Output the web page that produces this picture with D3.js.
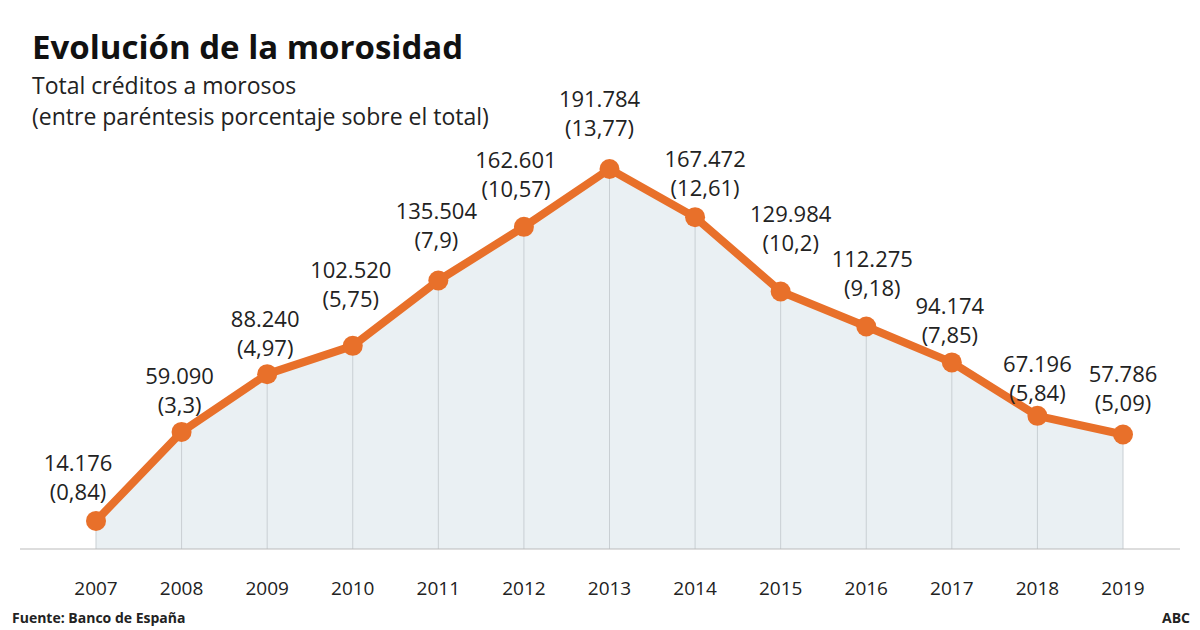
<!DOCTYPE html><html><head><meta charset="utf-8">
<script src="https://cdn.jsdelivr.net/npm/d3@7/dist/d3.min.js"></script>
<style>body{margin:0;background:#fff}text{font-family:"Open Sans",sans-serif}</style></head><body>
<svg id="c" width="1200" height="630"></svg>
<script>
const years=[2007,2008,2009,2010,2011,2012,2013,2014,2015,2016,2017,2018,2019];
const values=[14176,59090,88240,102520,135504,162601,191784,167472,129984,112275,94174,67196,57786];
const valueLabels=["14.176","59.090","88.240","102.520","135.504","162.601","191.784","167.472","129.984","112.275","94.174","67.196","57.786"];
const pctLabels=["(0,84)","(3,3)","(4,97)","(5,75)","(7,9)","(10,57)","(13,77)","(12,61)","(10,2)","(9,18)","(7,85)","(5,84)","(5,09)"];
const labelDy=[-58,-56,-55,-76,-69,-67,-70,-58,-77,-67,-56,-52,-60];
const labelDx=[-18,-2,-2,-2,-2,-8,-10,10,10,6,-2,0,0];
const svg=d3.select("#c");
const x=d3.scalePoint().domain(years).range([96,1123]);
const y=d3.scaleLinear().domain([0,191784]).range([549,169]);
const col="#e8702a";
svg.append("path").datum(values).attr("fill","#eaf0f3")
 .attr("d",d3.area().x((d,i)=>x(years[i])).y0(y(0)).y1(d=>y(d)));
svg.selectAll(".g").data(values).join("line").attr("x1",(d,i)=>x(years[i])).attr("x2",(d,i)=>x(years[i]))
 .attr("y1",d=>y(d)).attr("y2",y(0)).attr("stroke","#c9cfd3").attr("stroke-width",1);
svg.append("line").attr("x1",20).attr("x2",1180).attr("y1",y(0)).attr("y2",y(0)).attr("stroke","#bbb");
svg.append("path").datum(values).attr("fill","none").attr("stroke",col).attr("stroke-width",8).attr("stroke-linejoin","round")
 .attr("d",d3.line().x((d,i)=>x(years[i])).y(d=>y(d)));
svg.selectAll(".p").data(values).join("circle").attr("cx",(d,i)=>x(years[i])).attr("cy",d=>y(d)).attr("r",10).attr("fill",col);
const lg=svg.selectAll(".l").data(values).join("g").attr("transform",(d,i)=>`translate(${x(years[i])+labelDx[i]},${y(d)+labelDy[i]})`);
lg.append("text").attr("text-anchor","middle").attr("dy","0.35em").attr("font-size",22).attr("fill","#222").text((d,i)=>valueLabels[i]);
lg.append("text").attr("text-anchor","middle").attr("y",29).attr("dy","0.35em").attr("font-size",22).attr("fill","#222").text((d,i)=>pctLabels[i]);
svg.selectAll(".yl").data(years).join("text").attr("x",d=>x(d)).attr("y",588).attr("dy","0.35em").attr("text-anchor","middle")
 .attr("font-size",19).attr("fill","#222").text(d=>d);
svg.append("text").attr("x",32).attr("y",59).attr("font-size",33).attr("font-weight","bold").attr("fill","#111").text("Evolución de la morosidad");
svg.append("text").attr("x",32).attr("y",94).attr("font-size",23).attr("fill","#222").text("Total créditos a morosos");
svg.append("text").attr("x",32).attr("y",125).attr("font-size",23).attr("fill","#222").text("(entre paréntesis porcentaje sobre el total)");
svg.append("text").attr("x",12).attr("y",623).attr("font-size",14).attr("font-weight","bold").attr("fill","#222").text("Fuente: Banco de España");
svg.append("text").attr("x",1190).attr("y",623).attr("text-anchor","end").attr("font-size",14).attr("font-weight","bold").attr("fill","#222").text("ABC");
</script></body></html>
